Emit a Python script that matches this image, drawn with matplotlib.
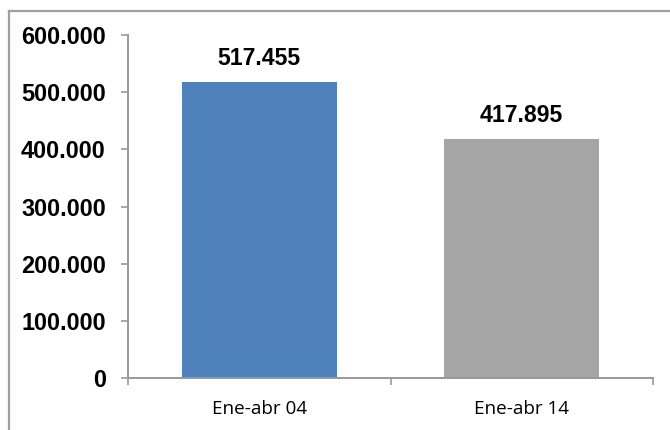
import matplotlib.pyplot as plt
from matplotlib.lines import Line2D
from matplotlib.ticker import FuncFormatter

categories = ["Ene-abr 04", "Ene-abr 14"]
values = [517455, 417895]
bar_colors = ["#4F81BD", "#A5A5A5"]
y_ticks = [0, 100000, 200000, 300000, 400000, 500000, 600000]


def miles(v, pos=None):
    return f"{v:,.0f}".replace(",", ".")


fig = plt.figure(figsize=(6.7, 4.3), dpi=100)
ax = fig.add_axes([128 / 670, 1 - 378 / 430, 525 / 670, 343 / 430])

x = range(len(categories))
ax.bar(x, values, width=0.59, color=bar_colors, zorder=2)

# value labels above the bars
for xi, v in zip(x, values):
    ax.annotate(miles(v), (xi, v), xytext=(0, 9), textcoords="offset points",
                ha="center", va="bottom", fontsize=16.6, fontweight="bold",
                family="Liberation Sans")

ax.set_xlim(-0.5, 1.5)
ax.set_ylim(0, 600000)
ax.set_yticks(y_ticks)
ax.yaxis.set_major_formatter(FuncFormatter(miles))
ax.set_xticks([-0.5, 0.5, 1.5], minor=False)
ax.set_xticklabels(["", "", ""])
ax.set_xticks(list(x), minor=True)
ax.set_xticklabels(categories, minor=True)
ax.tick_params(axis="x", which="minor", length=0, pad=16, labelsize=13.6)
ax.tick_params(axis="x", which="major", length=5, width=1.2, color="#999999",
               direction="out")
ax.tick_params(axis="y", length=5, width=1.2, color="#999999", pad=11)
for lab in ax.get_yticklabels():
    lab.set_fontsize(16.9)
    lab.set_fontweight("bold")
    lab.set_family("Liberation Sans")
for lab in ax.get_xticklabels(minor=True):
    lab.set_family("Open Sans")

for side in ["top", "right"]:
    ax.spines[side].set_visible(False)
for side in ["left", "bottom"]:
    ax.spines[side].set_color("#999999")
    ax.spines[side].set_linewidth(1.4)

# outer chart border (cut off on right and bottom)
fig.add_artist(Line2D([8.5 / 670, 8.5 / 670], [0, 1 - 10.5 / 430],
                      color="#A0A0A0", lw=1.6, transform=fig.transFigure))
fig.add_artist(Line2D([8.5 / 670, 1], [1 - 10.5 / 430, 1 - 10.5 / 430],
                      color="#A0A0A0", lw=1.6, transform=fig.transFigure))

fig.savefig("out.png", dpi=100)
